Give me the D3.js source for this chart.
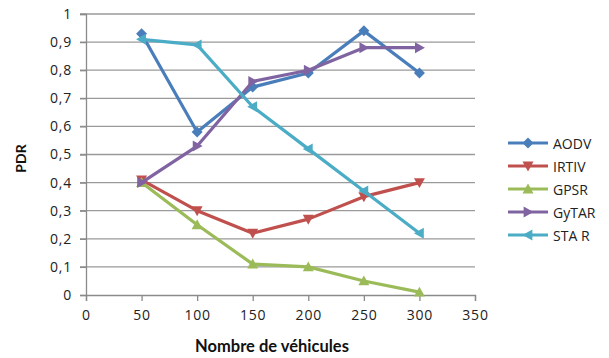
<!DOCTYPE html>
<html>
<head>
<meta charset="utf-8">
<script src="https://cdn.jsdelivr.net/npm/d3@7"></script>
<style>
  body { margin: 0; background: #fff; }
  svg { display: block; font-family: "Open Sans", Lato, sans-serif; }
</style>
</head>
<body>
<svg id="chart" width="609" height="358"></svg>
<script>
// Number of vehicles on the x axis
const vehicles = [50, 100, 150, 200, 250, 300];

// PDR per routing protocol
const aodv  = [0.93, 0.58, 0.74, 0.79, 0.94, 0.79];
const irtiv = [0.41, 0.30, 0.22, 0.27, 0.35, 0.40];
const gpsr  = [0.40, 0.25, 0.11, 0.10, 0.05, 0.01];
const gytar = [0.40, 0.53, 0.76, 0.80, 0.88, 0.88];
const star  = [0.91, 0.89, 0.67, 0.52, 0.37, 0.22];

const seriesNames = ["AODV", "IRTIV", "GPSR", "GyTAR", "STA R"];
const xTicks = [0, 50, 100, 150, 200, 250, 300, 350];
const yTicks = [0, 0.1, 0.2, 0.3, 0.4, 0.5, 0.6, 0.7, 0.8, 0.9, 1];

const series = [
  { name: seriesNames[0], values: aodv,  color: "#4a7ebb", symbol: "diamond" },
  { name: seriesNames[1], values: irtiv, color: "#c0504d", symbol: "down" },
  { name: seriesNames[2], values: gpsr,  color: "#9bbb59", symbol: "up" },
  { name: seriesNames[3], values: gytar, color: "#8064a2", symbol: "right" },
  { name: seriesNames[4], values: star,  color: "#4bacc6", symbol: "left" }
];

const svg = d3.select("#chart");
const x = d3.scaleLinear().domain([0, 350]).range([86, 475]);
const y = d3.scaleLinear().domain([0, 1]).range([295, 14]);

// Horizontal gridlines
svg.append("g")
  .selectAll("line")
  .data(yTicks.filter(d => d > 0))
  .join("line")
  .attr("x1", x(0) - 6).attr("x2", x(350))
  .attr("y1", d => y(d)).attr("y2", d => y(d))
  .attr("stroke", "#9a9a9a").attr("stroke-width", 1.3);

// Y axis
const yAxis = svg.append("g")
  .attr("transform", `translate(${x(0)},0)`)
  .call(d3.axisLeft(y).tickValues(yTicks).tickSize(6).tickPadding(8)
    .tickFormat(d => d3.format(".1~f")(d).replace(".", ",")));
yAxis.select(".domain").attr("stroke", "#8a8a8a").attr("stroke-width", 1.3);
yAxis.selectAll(".tick line").attr("stroke", "#8a8a8a").attr("stroke-width", 1.3);
yAxis.selectAll(".tick text").attr("font-size", 14).attr("fill", "#222")
  .attr("letter-spacing", 0.8)
  .attr("font-family", "'Open Sans', Lato, sans-serif");

// X axis
const xAxis = svg.append("g")
  .attr("transform", `translate(0,${y(0)})`)
  .call(d3.axisBottom(x).tickValues(xTicks).tickSize(6).tickPadding(9));
xAxis.select(".domain").attr("stroke", "#8a8a8a").attr("stroke-width", 1.3);
xAxis.selectAll(".tick line").attr("stroke", "#8a8a8a").attr("stroke-width", 1.3);
xAxis.selectAll(".tick text").attr("font-size", 14).attr("fill", "#222")
  .attr("letter-spacing", 0.8)
  .attr("font-family", "'Open Sans', Lato, sans-serif");

// Axis titles
svg.append("text")
  .attr("transform", `translate(26,${y(0.5) + 4}) rotate(-90)`)
  .attr("text-anchor", "middle")
  .attr("font-family", "Lato, sans-serif")
  .attr("font-size", 14).attr("font-weight", "bold").attr("fill", "#111")
  .text("PDR");
svg.append("text")
  .attr("x", 272).attr("y", 352)
  .attr("text-anchor", "middle")
  .attr("font-family", "Lato, sans-serif")
  .attr("font-size", 16.5).attr("font-weight", "bold").attr("fill", "#111")
  .text("Nombre de véhicules");

// Marker shapes
function markerPath(kind, s) {
  switch (kind) {
    case "diamond": return `M0,${-s}L${s},0L0,${s}L${-s},0Z`;
    case "down":    return `M${-s},${-s * 0.8}L${s},${-s * 0.8}L0,${s}Z`;
    case "up":      return `M${-s},${s * 0.8}L${s},${s * 0.8}L0,${-s}Z`;
    case "right":   return `M${-s * 0.8},${-s}L${s},0L${-s * 0.8},${s}Z`;
    case "left":    return `M${s * 0.8},${-s}L${-s},0L${s * 0.8},${s}Z`;
  }
}

const line = d3.line().x((d, i) => x(vehicles[i])).y(d => y(d));

const lines = svg.append("g");
series.forEach(s => {
  const g = lines.append("g");
  g.append("path")
    .attr("d", line(s.values))
    .attr("fill", "none")
    .attr("stroke", s.color)
    .attr("stroke-width", 3.2)
    .attr("stroke-linejoin", "round");
  g.selectAll("path.m")
    .data(s.values)
    .join("path")
    .attr("class", "m")
    .attr("transform", (d, i) => `translate(${x(vehicles[i])},${y(d)})`)
    .attr("d", markerPath(s.symbol, 5.5))
    .attr("fill", s.color);
});

// Legend
const legendY = [143, 166, 189, 212, 235];
const legend = svg.append("g");
series.forEach((s, i) => {
  const g = legend.append("g").attr("transform", `translate(0,${legendY[i]})`);
  g.append("line").attr("x1", 508).attr("x2", 548).attr("y1", 0).attr("y2", 0)
    .attr("stroke", s.color).attr("stroke-width", 3.2);
  g.append("path").attr("transform", "translate(528,0)")
    .attr("d", markerPath(s.symbol, 5.5)).attr("fill", s.color);
  g.append("text").attr("x", 553).attr("y", 5.5)
    .attr("font-size", 14).attr("fill", "#222")
    .text(s.name);
});
</script>
</body>
</html>
